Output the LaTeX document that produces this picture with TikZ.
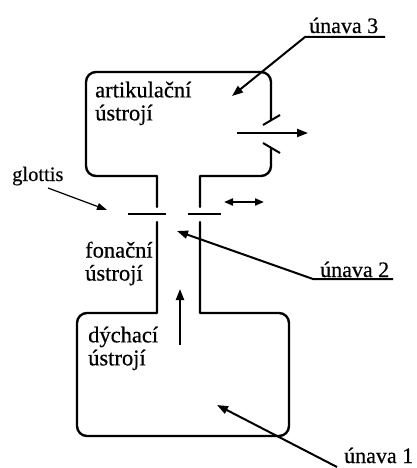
\documentclass[tikz,border=0pt]{standalone}
\usepackage{fontspec}
\setmainfont{Liberation Serif}
\newfontfamily\lblfont{Liberation Serif}[FakeBold=0.5]
\usetikzlibrary{arrows.meta}
\begin{document}
\begin{tikzpicture}[x=1pt,y=-1pt,
  wall/.style={line width=2.4pt,line cap=round,line join=round},
  plate/.style={line width=2pt},
  pointer/.style={line width=2pt,-{Triangle[length=11pt,width=8pt]}},
  thinpointer/.style={line width=1.2pt,-{Triangle[length=10pt,width=7pt]}},
  label/.style={anchor=base west,inner sep=0pt,font=\lblfont\fontsize{22}{23}\selectfont},
  twoline/.style={anchor=north west,inner sep=0pt,align=left,font=\lblfont\fontsize{22.5}{23}\selectfont}]
\useasboundingbox (0,0) rectangle (416,468);
% articulation box
\draw[wall] (157,207) -- (157,176) [rounded corners=10pt] -- (86,176) -- (86,72) -- (271,72) [sharp corners] -- (271,120);
\draw[wall] (271,148) [rounded corners=10pt] -- (271,176) [sharp corners] -- (200,176) -- (200,207);
\draw[plate] (263,125) -- (280,115);
\draw[plate] (263,143) -- (280,153);
% glottis plates
\draw[plate] (128,214) -- (166,214);
\draw[plate] (188,214) -- (221,214);
% breathing box
\draw[wall] (157,222) -- (157,313) [rounded corners=10pt] -- (77,313) -- (77,436) -- (289,436) -- (289,313) [sharp corners] -- (200,313) -- (200,222);
% texts
\node[label] (u3) at (309,33) {únava 3};
\node[label] (u2) at (320,277) {únava 2};
\node[label] (u1) at (344,463) {únava 1};
\node[label,font=\lblfont\fontsize{20.5}{23}\selectfont] (gl) at (12,181) {glottis};
\node[twoline] (art) at (95,81.5) {artikulační\\ústrojí};
\node[twoline] (fon) at (85,241.5) {fonační\\ústrojí};
\node[twoline] (dych) at (88,326.5) {dýchací\\ústrojí};
% coordinates
\coordinate (u3r) at (385,37);
\coordinate (u3l) at (305,37);
\coordinate (t3) at (232,96);
\coordinate (u2r) at (393,279);
\coordinate (u2l) at (313,279);
\coordinate (t2) at (177,231);
\coordinate (u1s) at (337,467);
\coordinate (t1) at (217,405);
\coordinate (gs) at (48,188);
\coordinate (gt) at (107,210);
\coordinate (airs) at (180,345);
\coordinate (airt) at (180,289);
\coordinate (outs) at (237,133);
\coordinate (outt) at (308,133);
\coordinate (da) at (224,202);
\coordinate (db) at (264,202);
% arrows
\draw[pointer] (u3r) -- (u3l) -- (t3);
\draw[pointer] (u2r) -- (u2l) -- (t2);
\draw[pointer] (u1s) -- (t1);
\draw[thinpointer] (gs) -- (gt);
\draw[pointer] (airs) -- (airt);
\draw[pointer] (outs) -- (outt);
\draw[line width=2pt,{Triangle[length=9pt,width=7pt]}-{Triangle[length=9pt,width=7pt]}] (da) -- (db);
\end{tikzpicture}
\end{document}
